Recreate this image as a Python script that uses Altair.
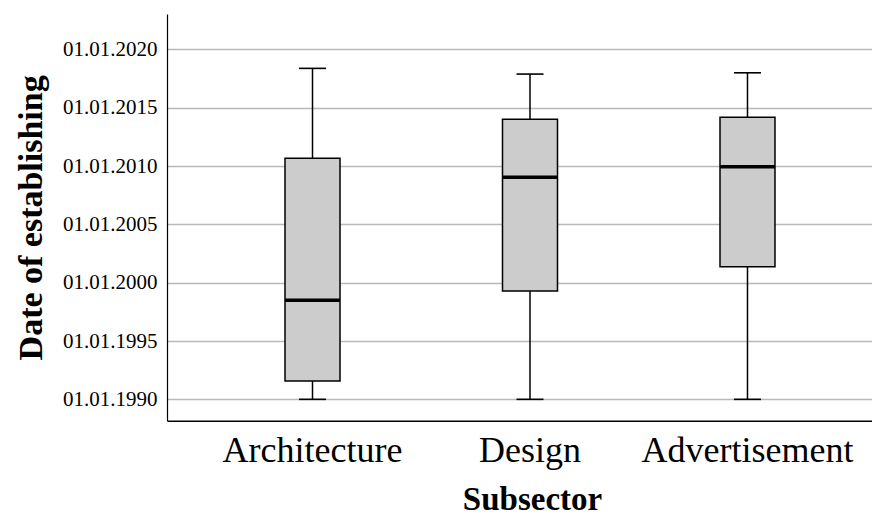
import altair as alt
import pandas as pd

categories = ["Architecture", "Design", "Advertisement"]
whisker_low = [1990.0, 1990.0, 1990.0]
q1 = [1991.57, 1999.28, 2001.37]
median = [1998.49, 2009.03, 2009.94]
q3 = [2010.66, 2014.0, 2014.17]
whisker_high = [2018.37, 2017.88, 2017.99]
tick_years = [1990, 1995, 2000, 2005, 2010, 2015, 2020]

df = pd.DataFrame({
    "cat": categories,
    "lo": whisker_low,
    "q1": q1,
    "med": median,
    "q3": q3,
    "hi": whisker_high,
})

FONT = "Liberation Serif"

xenc = alt.X(
    "cat:N",
    sort=categories,
    title="Subsector",
    scale=alt.Scale(paddingInner=0, paddingOuter=0.1207, align=0.7),
    axis=alt.Axis(
        labelAngle=0, labelFontSize=36, labelFont=FONT, labelColor="black",
        labelPadding=13, labelLimit=0, ticks=False, domainColor="black", domainWidth=1.5,
        titleFontSize=33, titleFont=FONT, titleFontWeight="bold", titleColor="black",
        titlePadding=15, grid=False, titleX=365,
    ),
)

yscale = alt.Scale(domain=[1988.17, 2023.03], nice=False, zero=False)

base = alt.Chart(df)

whiskers = base.mark_rule(color="black", strokeWidth=1.5, opacity=1).encode(
    x=xenc,
    y=alt.Y(
        "lo:Q",
        scale=yscale,
        title="Date of establishing",
        axis=alt.Axis(
            values=tick_years,
            labelExpr="'01.01.' + datum.value",
            labelFontSize=21, labelFont=FONT, labelColor="black", labelPadding=10,
            ticks=False, domainColor="black", domainWidth=1.2,
            grid=True, gridColor="#b9b9b9", gridWidth=1.6,
            titleFontSize=34, titleFont=FONT, titleFontWeight="bold", titleColor="black",
            titlePadding=14,
        ),
    ),
    y2="hi:Q",
)

box = base.mark_bar(size=55, fill="#cccccc", stroke="black", strokeWidth=1.5, opacity=1).encode(
    x=xenc, y=alt.Y("q1:Q", scale=yscale), y2="q3:Q"
)

cap_lo = base.mark_tick(size=27, thickness=1.6, color="black", opacity=1).encode(
    x=xenc, y=alt.Y("lo:Q", scale=yscale)
)
cap_hi = base.mark_tick(size=27, thickness=1.6, color="black", opacity=1).encode(
    x=xenc, y=alt.Y("hi:Q", scale=yscale)
)
med = base.mark_tick(size=55, thickness=3.5, color="black", opacity=1).encode(
    x=xenc, y=alt.Y("med:Q", scale=yscale)
)

chart = alt.layer(whiskers, box, cap_lo, cap_hi, med).properties(
    width=705,
    height=406.7,
    autosize=alt.AutoSizeParams(type="none"),
    padding={"left": 159, "top": 6, "right": 0, "bottom": 100},
).configure(font=FONT).configure_view(stroke=None)

chart.save("out.html", embed_options={"renderer": "svg", "actions": False})
